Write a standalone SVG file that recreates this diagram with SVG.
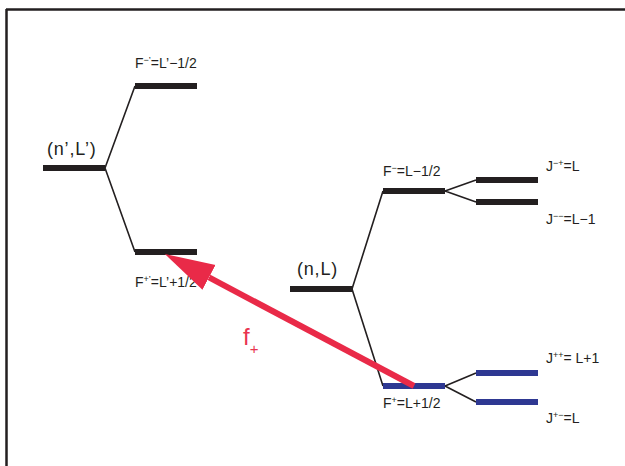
<svg xmlns="http://www.w3.org/2000/svg" width="625" height="466" viewBox="0 0 625 466">
<style>
.bar{stroke:#231f20;stroke-width:6;fill:none}
.blue{stroke:#2e3892;stroke-width:6;fill:none}
.ln{stroke:#231f20;stroke-width:1.6;fill:none}
.lbl{font-family:"Liberation Sans",Arial,sans-serif;font-size:14px;fill:#231f20}
.big{font-family:"Liberation Sans",Arial,sans-serif;font-size:18px;letter-spacing:0.8px;fill:#231f20}
.sup{font-size:9px}
.red{font-family:"Liberation Sans",Arial,sans-serif;fill:#e9344f}
</style>
<defs>
<marker id="ah" markerUnits="userSpaceOnUse" markerWidth="52" markerHeight="30" viewBox="0 -15 52 30" refX="0" refY="0" orient="auto">
<path d="M0,-14 L50,0 L0,14 z" fill="#e92a48"/>
</marker>
</defs>
<rect width="625" height="466" fill="#fff"/>
<g id="frame">
<path d="M6,9.5 H625 M6.5,9 V466" stroke="#231f20" stroke-width="2.5" fill="none"/>
</g>
<g id="connectors">
<path class="ln" d="M105,168 L135,86 M105,168 L135,252"/>
<path class="ln" d="M352,289 L383,191 M352,289 L383,386"/>
<path class="ln" d="M445,191 L476,180 M445,191 L476,202"/>
<path class="ln" d="M445,386 L476,373 M445,386 L476,402"/>
</g>
<g id="nL-prime">
<line class="bar" x1="43" y1="168" x2="105" y2="168"/>
<text class="big" x="47" y="155">(n’,L’)</text>
</g>
<g id="Fminus-prime">
<line class="bar" x1="135" y1="86" x2="197" y2="86"/>
<text class="lbl" x="135" y="68">F<tspan class="sup" dy="-5">−’</tspan><tspan dy="5">=L’−1/2</tspan></text>
</g>
<g id="Fplus-prime">
<line class="bar" x1="135" y1="252" x2="197" y2="252"/>
<text class="lbl" x="135" y="287">F<tspan class="sup" dy="-5">+’</tspan><tspan dy="5">=L’+1/2</tspan></text>
</g>
<g id="nL">
<line class="bar" x1="290" y1="289" x2="353" y2="289"/>
<text class="big" x="297" y="275">(n,L)</text>
</g>
<g id="Fminus">
<line class="bar" x1="383" y1="191" x2="445" y2="191"/>
<text class="lbl" x="383" y="176">F<tspan class="sup" dy="-5">−</tspan><tspan dy="5">=L−1/2</tspan></text>
</g>
<g id="Fplus">
<line class="blue" x1="383" y1="386" x2="445" y2="386"/>
<text class="lbl" x="383" y="408">F<tspan class="sup" dy="-5">+</tspan><tspan dy="5">=L+1/2</tspan></text>
</g>
<g id="Jmp">
<line class="bar" x1="476" y1="180" x2="538" y2="180"/>
<text class="lbl" x="546" y="171">J<tspan class="sup" dy="-5">−+</tspan><tspan dy="5">=L</tspan></text>
</g>
<g id="Jmm">
<line class="bar" x1="476" y1="202" x2="538" y2="202"/>
<text class="lbl" x="546" y="224">J<tspan class="sup" dy="-5">−−</tspan><tspan dy="5">=L−1</tspan></text>
</g>
<g id="Jpp">
<line class="blue" x1="476" y1="373" x2="538" y2="373"/>
<text class="lbl" x="546" y="363">J<tspan class="sup" dy="-5">++</tspan><tspan dy="5">= L+1</tspan></text>
</g>
<g id="Jpm">
<line class="blue" x1="476" y1="402" x2="538" y2="402"/>
<text class="lbl" x="546" y="423">J<tspan class="sup" dy="-5">+−</tspan><tspan dy="5">=L</tspan></text>
</g>
<g id="transition">
<line x1="414" y1="386" x2="209" y2="277.4" stroke="#e92a48" stroke-width="6" marker-end="url(#ah)"/>
<text class="red" x="243" y="345" font-size="24">f<tspan font-size="15" dy="9">+</tspan></text>
</g>
</svg>
